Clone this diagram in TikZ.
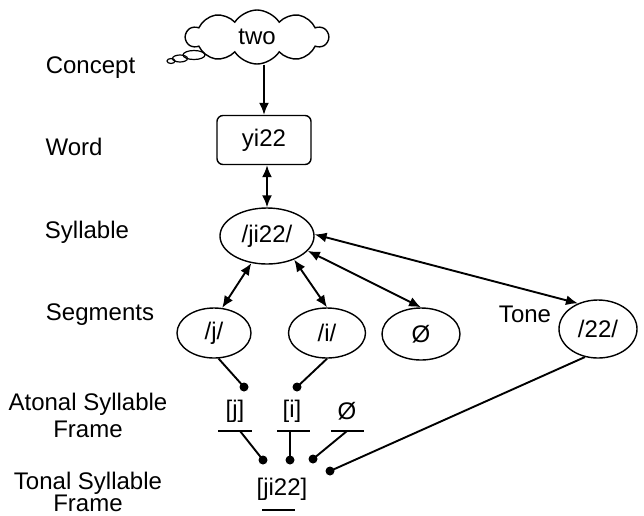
\documentclass[tikz,border=0pt]{standalone}
\usepackage{fontspec}
\setmainfont{Liberation Sans}
\usetikzlibrary{shapes.geometric,shapes.symbols,arrows.meta}
\begin{document}
\begin{tikzpicture}[x=1pt,y=-1pt,
  every node/.style={font=\fontsize{24}{28}\selectfont, inner sep=0pt},
  lbl/.style={anchor=base},
  ell/.style={draw, ellipse, line width=1.4pt, minimum width=78pt, minimum height=52pt},
  arr/.style={line width=1.9pt, -{Latex[length=12pt,width=10pt]}},
  darr/.style={line width=1.9pt, {Latex[length=12pt,width=10pt]}-{Latex[length=12pt,width=10pt]}},
  ln/.style={line width=1.9pt},
  dotn/.style={circle, fill, minimum size=9pt, inner sep=0pt},
  bub/.style={line width=1.2pt},
]
\useasboundingbox (0,0) rectangle (644,515);

% left labels
\node[lbl] (lconcept) at (90.5,73) {Concept};
\node[lbl] (lword) at (74,155) {Word};
\node[lbl] (lsyl) at (87,238) {Syllable};
\node[lbl] (lseg) at (100,320) {Segments};
\node[lbl] (latonalA) at (88,410) {Atonal Syllable};
\node[lbl] (latonalB) at (88,437) {Frame};
\node[lbl] (ltonalA) at (88,489) {Tonal Syllable};
\node[lbl] (ltonalB) at (88,511) {Frame};
\node[lbl] (ltone) at (525,322) {Tone};

% cloud
\node[cloud, draw, line width=1.4pt, cloud puffs=10, cloud puff arc=115, aspect=2.6,
      minimum width=142pt, minimum height=54pt] (cloud) at (257,37) {two};
\draw[bub] (194,55) ellipse (11 and 4.5);
\draw[bub] (180,58.5) ellipse (7.5 and 3.5);
\draw[bub] (171,61) ellipse (4 and 2.5);

% main nodes
\node[draw, rounded corners=6pt, line width=1.4pt, minimum width=94pt, minimum height=49pt] (word) at (264,140) {yi22};
\node[ell, minimum width=94pt, minimum height=56pt] (syl) at (267,236) {/ji22/};
\node[ell, minimum width=74pt, minimum height=50pt] (j) at (214,333) {/j/};
\node[ell, minimum width=77pt, minimum height=50pt] (i) at (327,333) {/i/};
\node[ell, minimum width=78pt, minimum height=52pt] (zero) at (421,334) {Ø};
\node[ell, minimum width=78pt, minimum height=58pt] (t22) at (598,329) {/22/};

% frames
\node (aj) at (235,411) {[j]};
\node (ai) at (292,411) {[i]};
\node (az) at (347,411) {Ø};
\node (tf) at (282,489) {[ji22]};

\coordinate (uA1) at (218,431); \coordinate (uA2) at (252,431);
\coordinate (uB1) at (277,431); \coordinate (uB2) at (310,431);
\coordinate (uC1) at (331,431); \coordinate (uC2) at (364,431);
\coordinate (uD1) at (262,510); \coordinate (uD2) at (295,510);
\coordinate (uA) at (240,431);
\coordinate (uB) at (290,431);
\coordinate (uC) at (347,431);
\draw[ln] (uA1) -- (uA2);
\draw[ln] (uB1) -- (uB2);
\draw[ln] (uC1) -- (uC2);
\draw[ln] (uD1) -- (uD2);

% dots
\node[dotn] (d1) at (244,387) {};
\node[dotn] (d2) at (297,387) {};
\node[dotn] (d3) at (263,460) {};
\node[dotn] (d4) at (290,460) {};
\node[dotn] (d5) at (313,459) {};
\node[dotn] (d6) at (330,471) {};

% connectors
\draw[arr] (word.north |- cloud.south) -- (word.north);
\draw[darr] (word.south -| syl.north) -- (syl.north);
\draw[darr] (syl.240) -- (j.72);
\draw[darr] (syl.319) -- (i.north);
\draw[darr] (syl.340) -- (zero.north);
\draw[darr] (syl.2) -- (t22.128);

\draw[ln] (j.280) -- (d1.center);
\draw[ln] (i.south) -- (d2.center);
\draw[ln] (uA) -- (d3.center);
\draw[ln] (uB) -- (d4.center);
\draw[ln] (uC) -- (d5.center);
\draw[ln] (t22.245) -- (d6.center);
\end{tikzpicture}
\end{document}
